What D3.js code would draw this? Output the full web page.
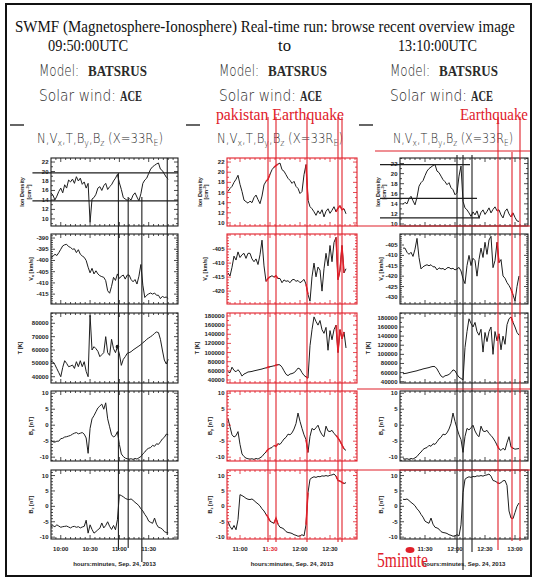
<!DOCTYPE html>
<html>
<head>
<meta charset="utf-8">
<title>SWMF overview</title>
<script src="https://cdn.jsdelivr.net/npm/d3@7"></script>
<style>
    body { margin: 0; background: #fff; }
    svg { display: block; }
    .tickLabel { font-family: "Liberation Sans", Arial, sans-serif; font-size: 6px; font-weight: bold; fill: #222; }
    .axisTitle { font-family: "Liberation Sans", Arial, sans-serif; font-size: 5.5px; font-weight: bold; fill: #222; }
    .serif { font-family: "Liberation Serif", "Times New Roman", serif; }
    .thin { font-family: "DejaVu Sans", sans-serif; font-weight: 300; }
</style>
</head>
<body>
<div id="chart"></div>
<script>

// ACE / BATSRUS samples, every 2 minutes from 09:50 UTC (Sep. 24, 2013)
const sampleStart = "09:50";
const sampleStepMin = 2;

const ionDensity = [
    15.5, 15, 14, 14.8, 15.8, 16.5, 15.5, 17.2, 16.5, 18.2,
    17.8, 18.4, 17.5, 18.9, 18, 18.6, 17.3, 17.8, 16.5, 17.5,
    9.3, 14.2, 14.5, 15.2, 16.5, 16.8, 16, 17, 17.5, 16.2,
    16.8, 17.2, 18, 18.6, 19.4, 17.6, 16.2, 14.5, 14.2, 13.9,
    14.3, 14, 15, 15.5, 14.6, 13.8, 15.3, 17.5, 18.2, 18.6,
    19.6, 20.5, 21, 21.3, 21.6, 21.8, 20.5, 20.2, 19.5, 18.8,
    18.4, 17.8, 18.2, 17.2, 16.8, 15.8, 16.2, 19.5, 21.5, 14.5,
    13.2, 12.8, 12.2, 11.5, 12.4, 11.8, 12.6, 11.2, 12.3, 12.8,
    11.9, 12.5, 13.2, 12.2, 12.9, 13.4, 12.6, 12.8, 11.8, 11.2,
    12.5, 13, 12, 11.4, 12.2, 11.3, 10.6, 10.5
];

const vx = [
    -398.6, -398.2, -397.2, -397.8, -396.5, -395, -393.5, -393, -392.8, -393.8,
    -394.2, -395, -394.8, -396.5, -395.2, -397.2, -398, -398.6, -400, -403,
    -405.5, -403.5, -406, -404.6, -406, -406.8, -407.2, -407.5, -409, -413.5,
    -414.6, -411.5, -407.5, -408.9, -406, -408, -407, -406.5, -408.3, -406.5,
    -406.5, -408.5, -409.5, -408.5, -410.5, -407, -401.8, -411, -416.5, -415.5,
    -414.9, -414.5, -415, -414.5, -415.5, -415.5, -417, -416, -416.5, -416.3,
    -417, -416, -415.8, -416.5, -416.2, -417, -416.5, -415.8, -417.5, -421.2,
    -423.6, -414.9, -410, -414.9, -411.4, -412.5, -420, -412, -406.5, -411,
    -403.7, -409.5, -402.6, -400.8, -415.9, -412.5, -403.7, -413.5, -412, -419.9,
    -421, -423.1, -424.5, -426.3, -429, -431.9, -425, -419.9
];

const temperature = [
    51500, 51000, 49000, 46000, 43000, 40000, 47000, 52000, 50000, 47500,
    48000, 48750, 46200, 51250, 47500, 52000, 47500, 51250, 44000, 40000,
    86000, 60000, 62500, 61000, 59000, 55000, 56500, 58000, 70000, 58000,
    56000, 68000, 61000, 58000, 62500, 57000, 48500, 53000, 55000, 57500,
    58000, 58750, 60000, 61000, 62000, 63000, 64000, 65500, 66500, 68000,
    69000, 70000, 71000, 72500, 73500, 73000, 68000, 60000, 52500, 49500,
    53000, 54000, 56000, 60000, 66000, 64000, 56000, 50000, 47000, 44000,
    115000, 150000, 178000, 168000, 160000, 170000, 150000, 142000, 155000, 105000,
    148000, 128000, 150000, 160000, 100000, 150000, 130000, 145000, 110000, 140000,
    122000, 165000, 178000, 182000, 170000, 160000, 148000, 142000
];

const by = [
    -4.7, -5.2, -5.3, -5, -5, -4.2, -4.1, -3.7, -3.6, -3.4,
    -3.2, -2.8, -2.5, -2.3, -2.7, -2.5, -2.3, -2.8, -4, -8.8,
    -1, 2, 3, 4.2, 5.4, 6, 6.6, 5, 7, 2,
    -0.5, -3, -3.7, -3.3, -2, -6, -9, -9.8, -10.3, -10.5,
    -10.6, -10.5, -10.7, -10.4, -10.6, -10.2, -9.8, -9, -8.4, -7.6,
    -7.2, -7, -6.3, -6.6, -5.8, -6, -5.2, -4.3, -3.8, -2.8,
    -3, -2.4, -1.2, 0.5, 3.8, 1.2, -1, -3, -4.5, -8.5,
    -3.5, -1, -1.5, -0.8, 0, -1.8, -3, -3.6, -0.3, -1.8,
    -2, -1.6, -2.6, -3.2, -4, -5, -6.2, -7.4, -7.9, -7.2,
    -7.8, -5.5, -3.6, -6.8, -7.2, -7.5, -7.4, -7.3
];

const bz = [
    -6.5, -6.3, -6.6, -6, -6.4, -6.8, -6.6, -6.5, -6.4, -6.7,
    -7, -6.6, -6.5, -6.8, -6.6, -7, -6.7, -6.5, -4.5, -8.7,
    -6, -7.5, -8.7, -8.2, -7.6, -7.1, -5.4, -7, -6.2, -5,
    -6.5, -7.5, -6.2, -7.6, -4.3, 3.8, 3.5, 3.1, 2.6, 2.3,
    2.2, 2.4, 1.9, 1.3, 0.8, 0.2, -0.8, -1.5, -2.6, -3.5,
    -4.8, -5.2, -5.5, -3.8, -5.8, -6.8, -7, -7.4, -8.2, -8.5,
    -8.6, -8.8, -9.2, -9.4, -9.7, -9.6, -9.2, -9.6, -6, 4.5,
    8.8, 9.3, 9.6, 9.4, 9.7, 9.6, 9.9, 9.8, 10, 9.8,
    10.1, 10.2, 10.5, 9.8, 8.4, 8.2, 7.8, 7.4, 7.7, 8.3,
    8.4, 6.8, -1.5, -3.8, -4, -2, 0, 1.1
];

// time windows of the three overview images
const dataWindows = [["09:50", "11:50"], ["10:48", "12:46"], ["11:08", "13:04"]];
const axisWindows = [["09:50", "12:00"], ["10:47", "12:57"], ["11:05", "13:13"]];
const xTickLabels = [
    ["10:00", "10:30", "11:00", "11:30"],
    ["11:00", "11:30", "12:00", "12:30"],
    ["11:30", "12:00", "12:30", "13:00"]
];

// y tick labels
const nTicks = [10, 12, 14, 16, 18, 20, 22];
const vxTicks = [
    [-415, -410, -405, -400, -395, -390],
    [-420, -415, -410, -405],
    [-430, -425, -420, -415, -410, -405]
];
const tTicksLeft = [40000, 50000, 60000, 70000, 80000];
const tTicksWide = [40000, 60000, 80000, 100000, 120000, 140000, 160000, 180000];
const bTicks = [-10, -5, 0, 5, 10];

// hand drawn annotations
const leftMarks = ["10:59", "11:09", "11:23", "11:49"];
const leftLevels = [19.7, 13.8];
const middleMarks = ["11:28", "11:36", "12:07", "12:38", "12:42"];
const rightMarks = ["12:02", "12:08", "12:17"];
const rightLevels = [21.8, 15.1, 11.2];
const rightLevelEnds = ["12:15", "12:22", "12:25"];
const rightRedMarks = ["12:43", "12:57", "13:05"];


/* * * * * * * * * * * * * *
*        layout            *
* * * * * * * * * * * * * */

const W = 536, H = 578;
const RED = "#e0202a";
const INK = "#1e1e1e";

const colLeft = [51, 227, 400];
const colRight = [178, 357, 528];
const panelTop = [158, 234, 313, 391, 470];
const panelBottom = [226, 304, 383, 461, 539];

const parseHM = d3.timeParse("%H:%M");
const t0 = parseHM(sampleStart);
const samples = ionDensity.map((d, i) => d3.timeMinute.offset(t0, i * sampleStepMin));

const panels = [
    {values: ionDensity, domains: [[8.5, 22.85], [9.4, 22.8], [9.6, 23.1]],
        ticks: [nTicks, nTicks, nTicks], minor: [1, 1, 1]},
    {values: vx, domains: [[-419.4, -388.2], [-424.6, -399.6], [-433.4, -399.7]],
        ticks: vxTicks, minor: [1, 1, 1]},
    {values: temperature, domains: [[35300, 87700], [33400, 186500], [37150, 190700]],
        ticks: [tTicksLeft, tTicksWide, tTicksWide], minor: [2500, 10000, 10000]},
    {values: by, domains: [[-11.2, 10.7], [-11.2, 10.7], [-11.2, 10.7]],
        ticks: [bTicks, bTicks, bTicks], minor: [1, 1, 1]},
    {values: bz, domains: [[-10.6, 11.8], [-10.6, 11.8], [-10.6, 11.8]],
        ticks: [bTicks, bTicks, bTicks], minor: [1, 1, 1]}
];

// x of the rotated axis titles (baseline), relative to the plot's left edge
const titleOffsets = [
    [[-27, -20], -18, -29, -18, -18],
    [[-25, -19], -20, -28, -15, -15],
    [[-20, -14], -17, -30, -17, -17]
];

const svg = d3.select("#chart").append("svg")
    .attr("width", W)
    .attr("height", H);

svg.append("rect")
    .attr("width", W).attr("height", H)
    .attr("fill", "#fff");

// outer frame
svg.append("rect")
    .attr("x", 6).attr("y", 4)
    .attr("width", 525).attr("height", 572)
    .attr("fill", "none")
    .attr("stroke", "#111")
    .attr("stroke-width", 2);


/* * * * * * * * * * * * * *
*        header            *
* * * * * * * * * * * * * */

svg.append("text").attr("class", "serif")
    .attr("x", 15).attr("y", 32)
    .attr("font-size", 17)
    .attr("textLength", 500).attr("lengthAdjust", "spacingAndGlyphs")
    .attr("fill", "#111")
    .text("SWMF (Magnetosphere-Ionosphere) Real-time run: browse recent overview image");

[["09:50:00UTC", 48, 80], ["to", 278, 13], ["13:10:00UTC", 398, 79]].forEach(d => {
    svg.append("text").attr("class", "serif")
        .attr("x", d[1]).attr("y", 51)
        .attr("font-size", 16)
        .attr("textLength", d[2]).attr("lengthAdjust", "spacingAndGlyphs")
        .attr("fill", "#111")
        .text(d[0]);
});

colLeft.forEach((left, ci) => {
    let hx = [39, 219, 390][ci];
    let g = svg.append("g").attr("fill", "#2a2a2a");

    g.append("text").attr("class", "thin")
        .attr("x", hx).attr("y", 76).attr("font-size", 15)
        .attr("textLength", 40).attr("lengthAdjust", "spacingAndGlyphs")
        .text("Model:");
    g.append("text").attr("class", "serif")
        .attr("x", hx + 49).attr("y", 76).attr("font-size", 15).attr("font-weight", "bold")
        .attr("textLength", 59).attr("lengthAdjust", "spacingAndGlyphs")
        .text("BATSRUS");
    g.append("text").attr("class", "thin")
        .attr("x", hx).attr("y", 101).attr("font-size", 15)
        .attr("textLength", 77).attr("lengthAdjust", "spacingAndGlyphs")
        .text("Solar wind:");
    g.append("text").attr("class", "serif")
        .attr("x", hx + 81).attr("y", 101).attr("font-size", 15).attr("font-weight", "bold")
        .attr("textLength", 22).attr("lengthAdjust", "spacingAndGlyphs")
        .text("ACE");

    // little dash left of the plot title
    svg.append("line")
        .attr("x1", left - 41).attr("x2", left - 27)
        .attr("y1", 125).attr("y2", 125)
        .attr("stroke", "#333").attr("stroke-width", 1.5);

    let pt = svg.append("text").attr("class", "thin")
        .attr("x", left - 14 + [0, 4, 7][ci]).attr("y", 143)
        .attr("font-size", 13.5)
        .attr("textLength", [126, 126, 120][ci]).attr("lengthAdjust", "spacingAndGlyphs")
        .attr("fill", "#2a2a2a");
    [["N,V", 0], ["x", 1], [",T,B", -1], ["y", 1], [",B", -1], ["z", 1], [" (X=33R", -1], ["E", 1], [")", -1]]
        .forEach(s => {
            pt.append("tspan")
                .attr("dy", s[1] * 3)
                .attr("font-size", s[1] > 0 ? 9 : 13.5)
                .text(s[0]);
        });
});


/* * * * * * * * * * * * * *
*        panels            *
* * * * * * * * * * * * * */

function tickPath(x, y, box, yTicks, yMinor) {
    let p = "";
    let dom = x.domain();
    d3.timeMinute.every(5).range(dom[0], d3.timeMinute.offset(dom[1], 1)).forEach(m => {
        let px = x(m);
        if (px < box.left + 1 || px > box.right - 1) return;
        let len = m.getMinutes() % 30 === 0 ? 4 : 2;
        p += `M${px},${box.top}v${len}M${px},${box.bottom}v${-len}`;
    });
    let [lo, hi] = y.domain();
    d3.range(Math.ceil(lo / yMinor) * yMinor, hi, yMinor).forEach(v => {
        let py = y(v);
        let major = yTicks.some(t => Math.abs(t - v) < yMinor / 10);
        let len = major ? 4 : 2;
        p += `M${box.left},${py}h${len}M${box.right},${py}h${-len}`;
    });
    return p;
}

const columns = [];

colLeft.forEach((left, ci) => {
    let right = colRight[ci];
    let frameColor = ci === 1 ? RED : INK;
    let x = d3.scaleTime()
        .domain(axisWindows[ci].map(parseHM))
        .range([left, right]);
    let win = dataWindows[ci].map(parseHM);
    let g = svg.append("g").attr("class", "column");
    let scales = [];

    panels.forEach((p, pi) => {
        let box = {left: left, right: right, top: panelTop[pi], bottom: panelBottom[pi]};
        let y = d3.scaleLinear()
            .domain(p.domains[ci])
            .range([box.bottom, box.top]);
        scales.push(y);

        let pts = samples.map((t, i) => ({time: t, value: p.values[i]}))
            .filter(d => d.time >= win[0] && d.time <= win[1]);

        let line = d3.line()
            .x(d => x(d.time))
            .y(d => y(d.value));

        let clipId = `clip-${ci}-${pi}`;
        g.append("clipPath").attr("id", clipId)
            .append("rect")
            .attr("x", box.left).attr("y", box.top)
            .attr("width", box.right - box.left).attr("height", box.bottom - box.top);

        g.append("path")
            .datum(pts)
            .attr("clip-path", `url(#${clipId})`)
            .attr("d", line)
            .attr("fill", "none")
            .attr("stroke", INK)
            .attr("stroke-width", 1)
            .attr("stroke-linejoin", "round");

        // red highlighted stretches of the curve near the red marks
        let redTimes = ci === 1 ? middleMarks : (ci === 2 ? rightRedMarks.slice(0, 2) : []);
        redTimes.forEach(m => {
            let mt = parseHM(m);
            let seg = pts.filter(d => Math.abs(d.time - mt) <= 2.5 * 60000);
            if (seg.length > 1) {
                g.append("path")
                    .datum(seg)
                    .attr("d", line)
                    .attr("fill", "none")
                    .attr("stroke", RED)
                    .attr("stroke-width", 1.4);
            }
        });

        // frame with inward ticks
        g.append("rect")
            .attr("x", box.left).attr("y", box.top)
            .attr("width", box.right - box.left).attr("height", box.bottom - box.top)
            .attr("fill", "none")
            .attr("stroke", frameColor)
            .attr("stroke-width", 1.1);
        g.append("path")
            .attr("d", tickPath(x, y, box, p.ticks[ci], p.minor[ci]))
            .attr("fill", "none")
            .attr("stroke", frameColor)
            .attr("stroke-width", 0.8);

        // y tick labels
        g.selectAll(null)
            .data(p.ticks[ci])
            .enter().append("text")
            .attr("class", "tickLabel")
            .attr("x", box.left - 2.5)
            .attr("y", d => y(d) + 2)
            .attr("text-anchor", "end")
            .text(d => d);

        // rotated axis title
        let off = titleOffsets[ci][pi];
        let cy = (box.top + box.bottom) / 2;
        if (pi === 0) {
            g.append("text").attr("class", "axisTitle")
                .attr("transform", `translate(${left + off[0]},${cy}) rotate(-90)`)
                .attr("text-anchor", "middle")
                .text("Ion Density");
            let t2 = g.append("text").attr("class", "axisTitle")
                .attr("transform", `translate(${left + off[1]},${cy}) rotate(-90)`)
                .attr("text-anchor", "middle");
            t2.append("tspan").text("[cm");
            t2.append("tspan").attr("dy", -2).attr("font-size", 4).text("-3");
            t2.append("tspan").attr("dy", 2).text("]");
        } else {
            let names = [null, ["V", "x", " [km/s]"], ["T", "", " [K]"], ["B", "y", " [nT]"], ["B", "z", " [nT]"]][pi];
            let t = g.append("text").attr("class", "axisTitle")
                .attr("transform", `translate(${left + off},${cy}) rotate(-90)`)
                .attr("text-anchor", "middle");
            t.append("tspan").text(names[0]);
            if (names[1]) t.append("tspan").attr("dy", 1.2).attr("font-size", 4).text(names[1]);
            t.append("tspan").attr("dy", names[1] ? -1.2 : 0).text(names[2]);
        }
    });

    // x tick labels and axis title under the last panel
    xTickLabels[ci].forEach(lab => {
        let t = g.append("text").attr("class", "tickLabel")
            .attr("x", x(parseHM(lab)))
            .attr("y", 551)
            .attr("text-anchor", "middle")
            .attr("font-size", 6.5);
        if (ci === 1 && lab === "11:30") {
            t.append("tspan").text("1");
            t.append("tspan").attr("fill", RED).text("1:30");
        } else {
            t.text(lab);
        }
    });
    g.append("text").attr("class", "tickLabel")
        .attr("x", (left + right) / 2).attr("y", 566)
        .attr("text-anchor", "middle")
        .attr("font-size", 6.3)
        .text("hours:minutes, Sep. 24, 2013");

    columns.push({x: x, y: scales});
});


/* * * * * * * * * * * * * *
*      annotations         *
* * * * * * * * * * * * * */

const ann = svg.append("g").attr("class", "annotations").attr("fill", "none");

// left column: black guides
let L = columns[0];
leftLevels.forEach(v => {
    ann.append("line")
        .attr("x1", L.x(parseHM("09:31"))).attr("x2", colRight[0])
        .attr("y1", L.y[0](v)).attr("y2", L.y[0](v))
        .attr("stroke", INK).attr("stroke-width", 1.2);
});
const leftSpans = [[L.y[0](leftLevels[0]), 550], [197, 548], [197, 562], [panelTop[0], 535]];
leftMarks.forEach((m, i) => {
    ann.append("line")
        .attr("x1", L.x(parseHM(m))).attr("x2", L.x(parseHM(m)))
        .attr("y1", leftSpans[i][0]).attr("y2", leftSpans[i][1])
        .attr("stroke", INK).attr("stroke-width", 1.1);
});
// dot where the first guide crosses the temperature curve
ann.append("circle")
    .attr("cx", L.x(parseHM("10:58"))).attr("cy", L.y[2](temperature[34]))
    .attr("r", 1.8).attr("fill", INK);

// middle column: red lines
let M = columns[1];
middleMarks.forEach(m => {
    ann.append("line")
        .attr("x1", M.x(parseHM(m))).attr("x2", M.x(parseHM(m)))
        .attr("y1", 117).attr("y2", 542)
        .attr("stroke", RED).attr("stroke-width", 1.1);
});
svg.append("text").attr("class", "serif")
    .attr("x", 216).attr("y", 120)
    .attr("font-size", 16)
    .attr("textLength", 128).attr("lengthAdjust", "spacingAndGlyphs")
    .attr("fill", RED)
    .text("pakistan Earthquake");

// right column: black guides
let R = columns[2];
rightLevels.forEach((v, i) => {
    ann.append("line")
        .attr("x1", R.x(parseHM("10:45"))).attr("x2", R.x(parseHM(rightLevelEnds[i])))
        .attr("y1", R.y[0](v)).attr("y2", R.y[0](v))
        .attr("stroke", INK).attr("stroke-width", 1.2);
});
[553, 570, 552].forEach((yEnd, i) => {
    let px = R.x(parseHM(rightMarks[i]));
    ann.append("line")
        .attr("x1", px).attr("x2", px)
        .attr("y1", 155).attr("y2", yEnd)
        .attr("stroke", INK).attr("stroke-width", 1.1);
});

// right column: red lines
[[117, 550], [152, 541], [117, 541]].forEach((span, i) => {
    let px = R.x(parseHM(rightRedMarks[i]));
    ann.append("line")
        .attr("x1", px).attr("x2", px)
        .attr("y1", span[0]).attr("y2", span[1])
        .attr("stroke", RED).attr("stroke-width", 1.1);
});
[[375, 151], [357, panelBottom[0]], [357, panelTop[3] - 2], [357, panelTop[4]]].forEach(d => {
    ann.append("line")
        .attr("x1", d[0]).attr("x2", 530)
        .attr("y1", d[1]).attr("y2", d[1])
        .attr("stroke", RED).attr("stroke-width", 1.1);
});
svg.append("text").attr("class", "serif")
    .attr("x", 460).attr("y", 120)
    .attr("font-size", 16)
    .attr("textLength", 68).attr("lengthAdjust", "spacingAndGlyphs")
    .attr("fill", RED)
    .text("Earthquake");

svg.append("ellipse")
    .attr("cx", 410).attr("cy", 550)
    .attr("rx", 4.5).attr("ry", 3)
    .attr("fill", RED);
svg.append("text").attr("class", "serif")
    .attr("x", 377).attr("y", 567)
    .attr("font-size", 22)
    .attr("textLength", 51).attr("lengthAdjust", "spacingAndGlyphs")
    .attr("fill", RED)
    .text("5minute");

</script>
</body>
</html>
